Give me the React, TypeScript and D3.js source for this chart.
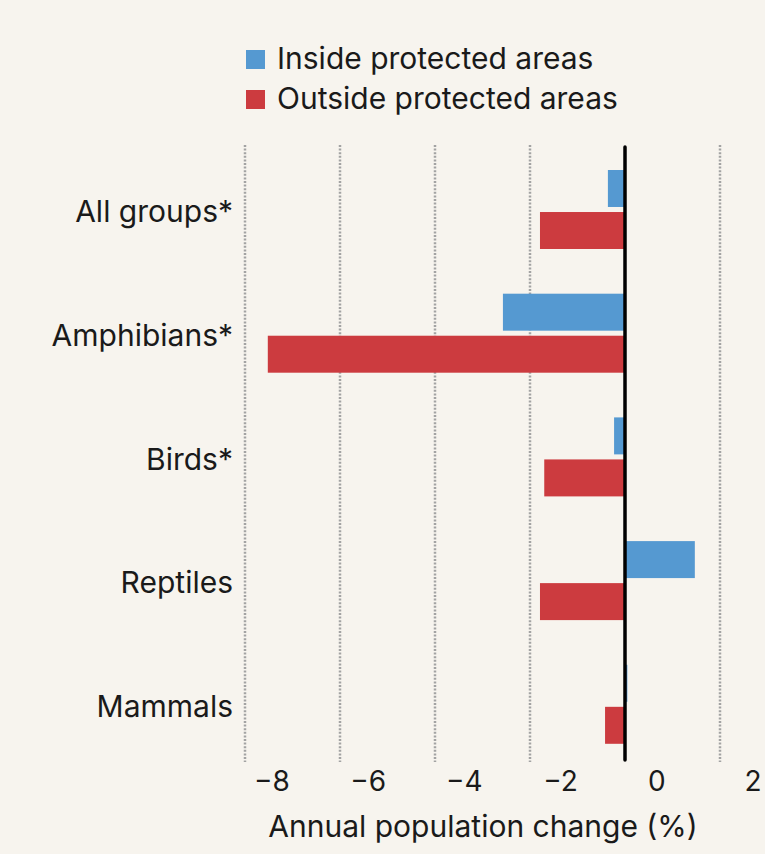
import React, { useEffect, useRef } from "react";
import * as d3 from "d3";

const categories = ["All groups*", "Amphibians*", "Birds*", "Reptiles", "Mammals"];
const insideValues = [-0.36, -2.57, -0.23, 1.47, 0.05];
const outsideValues = [-1.79, -7.52, -1.7, -1.79, -0.42];
const seriesNames = ["Inside protected areas", "Outside protected areas"];
const tickValues = [-8, -6, -4, -2, 0, 2];
const axisTitle = "Annual population change (%)";

const W = 765;
const H = 854;
const colors = ["#5599d1", "#cc3b3f"];
const font = "Inter, 'Noto Sans', sans-serif";

export default function App() {
  const ref = useRef<SVGSVGElement>(null);

  useEffect(() => {
    document.body.style.margin = "0";
    const svg = d3.select(ref.current);
    svg.selectAll("*").remove();

    svg.append("rect").attr("width", W).attr("height", H).attr("fill", "#f7f4ee");

    const x = d3.scaleLinear().domain([-8, 2]).range([245, 720]);
    // labels in the original sit a bit right of their gridlines
    const xLabel = d3.scaleLinear().domain([-8, 2]).range([272, 753]);
    const y = d3.scaleBand().domain(categories).range([148, 766.5]);
    const inner = d3.scaleBand().domain(seriesNames).range([22, 101]).paddingInner(0.12);

    // dotted gridlines
    svg.append("g")
      .selectAll("line")
      .data(tickValues.filter(t => t !== 0))
      .join("line")
      .attr("x1", d => x(d))
      .attr("x2", d => x(d))
      .attr("y1", 145)
      .attr("y2", 762)
      .attr("stroke", "#a3a3a3")
      .attr("stroke-width", 2.5)
      .attr("stroke-dasharray", "2 1.6");

    const rows = categories.map((c, i) => ({ c, vals: [insideValues[i], outsideValues[i]] }));

    const g = svg.append("g")
      .selectAll("g")
      .data(rows)
      .join("g")
      .attr("transform", d => `translate(0,${y(d.c)})`);

    g.selectAll("rect")
      .data(d => d.vals.map((v, k) => ({ v, k })))
      .join("rect")
      .attr("x", d => Math.min(x(0), x(d.v)))
      .attr("width", d => Math.abs(x(d.v) - x(0)))
      .attr("y", d => inner(seriesNames[d.k])!)
      .attr("height", inner.bandwidth())
      .attr("fill", d => colors[d.k]);

    // category labels
    svg.append("g")
      .selectAll("text")
      .data(categories)
      .join("text")
      .attr("x", 233)
      .attr("y", d => y(d)! + y.bandwidth() / 2 + 2)
      .attr("dy", "0.35em")
      .attr("text-anchor", "end")
      .attr("font-family", font)
      .attr("font-size", 30)
      .attr("fill", "#1a1a1a")
      .text(d => d);

    // zero line
    svg.append("line")
      .attr("x1", x(0))
      .attr("x2", x(0))
      .attr("y1", 147)
      .attr("y2", 760)
      .attr("stroke", "#000")
      .attr("stroke-width", 3.5)
      .attr("stroke-linecap", "round");

    // tick labels
    svg.append("g")
      .selectAll("text")
      .data(tickValues)
      .join("text")
      .attr("x", d => xLabel(d))
      .attr("y", 791)
      .attr("text-anchor", "middle")
      .attr("font-family", font)
      .attr("font-size", 28)
      .attr("fill", "#1a1a1a")
      .text(d => (d < 0 ? "\u2212" + Math.abs(d) : String(d)));

    svg.append("text")
      .attr("x", 483)
      .attr("y", 837)
      .attr("text-anchor", "middle")
      .attr("font-family", font)
      .attr("font-size", 30)
      .attr("fill", "#1a1a1a")
      .text(axisTitle);

    // legend
    const leg = svg.append("g")
      .selectAll("g")
      .data(seriesNames)
      .join("g")
      .attr("transform", (d, i) => `translate(246,${50 + i * 40})`);
    leg.append("rect").attr("width", 19).attr("height", 19).attr("fill", (d, i) => colors[i]);
    leg.append("text")
      .attr("x", 31)
      .attr("y", 19)
      .attr("font-family", font)
      .attr("font-size", 30)
      .attr("fill", "#1a1a1a")
      .text(d => d);
  }, []);

  return <svg ref={ref} width={W} height={H} style={{ display: "block" }} />;
}
